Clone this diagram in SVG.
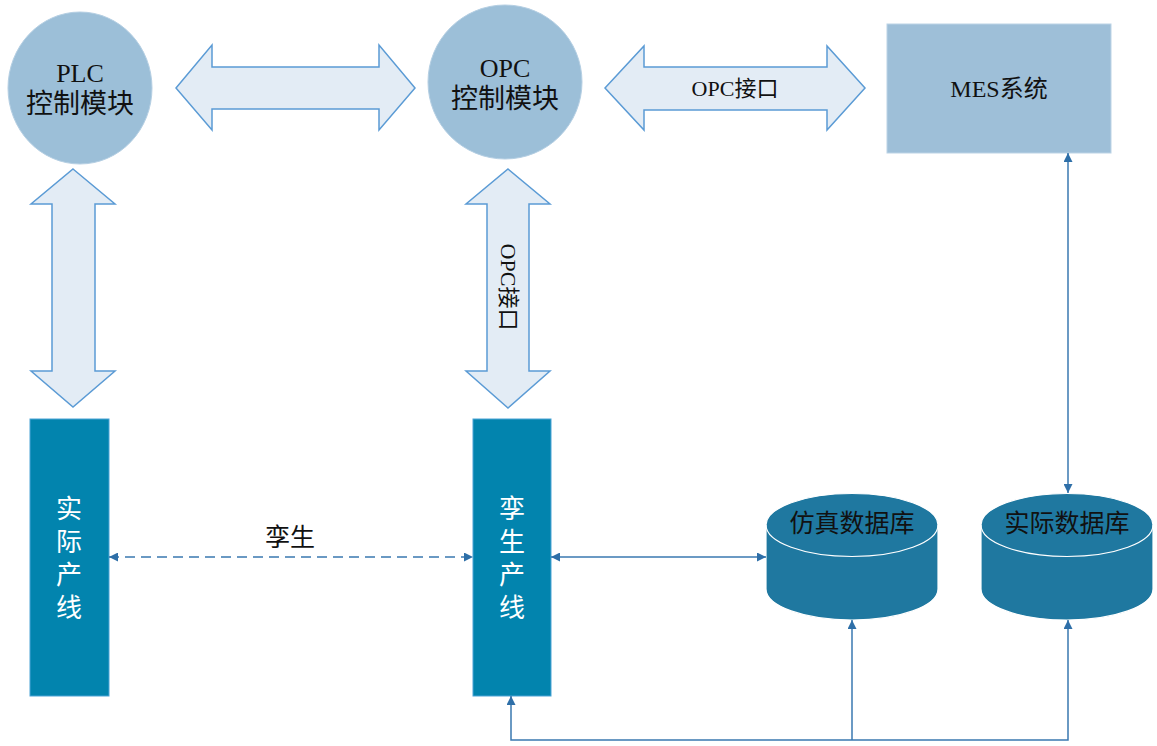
<svg xmlns="http://www.w3.org/2000/svg" width="1157" height="746" viewBox="0 0 1157 746">
<style>
  .t { font-family: "Liberation Serif", "Noto Sans CJK SC", serif; fill: #111; }
  .w { font-family: "Liberation Serif", "Noto Sans CJK SC", serif; fill: #ffffff; font-size: 26px; text-anchor: middle; }
  .circle { fill: #9cbfd8; stroke: #b5cfe3; stroke-width: 1; }
  .big { fill: #e3ecf5; stroke: #5b9bd5; stroke-width: 1.5; stroke-linejoin: miter; }
  .line { fill: #0284ae; stroke: #4aa3d6; stroke-width: 1; }
  .db { fill: #1f78a0; stroke: #ffffff; stroke-width: 1.2; }
  .conn { fill: none; stroke: #3a78b0; stroke-width: 1.5; }
</style>
<defs>
  <marker id="ah" viewBox="0 0 10 10" refX="10" refY="5" markerWidth="9" markerHeight="9" markerUnits="userSpaceOnUse" orient="auto-start-reverse">
    <path d="M0,0 L10,5 L0,10 z" fill="#2e6fa8"/>
  </marker>
</defs>
<rect width="1157" height="746" fill="#ffffff"/>

<g id="plc">
  <ellipse class="circle" cx="80" cy="88" rx="72" ry="76"/>
  <text class="t" x="80" y="82" font-size="26" text-anchor="middle">PLC</text>
  <text class="t" x="80" y="113" font-size="27" text-anchor="middle">控制模块</text>
</g>

<g id="opc">
  <ellipse class="circle" cx="505" cy="82" rx="77" ry="77"/>
  <text class="t" x="505" y="77" font-size="26" text-anchor="middle">OPC</text>
  <text class="t" x="505" y="108" font-size="27" text-anchor="middle">控制模块</text>
</g>

<g id="mes">
  <rect x="887" y="24" width="224" height="129" fill="#9ebfd8" stroke="#bcd3e6" stroke-width="1"/>
  <text class="t" x="999" y="97" font-size="24" text-anchor="middle">MES系统</text>
</g>

<g id="arrow-plc-opc">
  <polygon class="big" points="176,88 212,45 212,67 379,67 379,45 415,88 379,130 379,109 212,109 212,130"/>
</g>

<g id="arrow-opc-mes">
  <polygon class="big" points="605,88 644,46 644,67 827,67 827,46 865,88 827,130 827,110 644,110 644,130"/>
  <text class="t" x="735" y="96" font-size="22" text-anchor="middle">OPC接口</text>
</g>

<g id="arrow-plc-line">
  <polygon class="big" points="73,169 115,204 95,204 95,371 115,371 73,407 31,371 52,371 52,204 31,204"/>
</g>

<g id="arrow-opc-twin">
  <polygon class="big" points="508,169 550,204 529,204 529,371 550,371 508,408 466,371 487,371 487,204 466,204"/>
  <text class="t" x="508" y="287" font-size="22" text-anchor="middle" dominant-baseline="central" transform="rotate(90 508 287)">OPC接口</text>
</g>

<g id="real-line">
  <rect class="line" x="30" y="419" width="79" height="277"/>
  <text class="w" x="69" y="518">实</text>
  <text class="w" x="69" y="551">际</text>
  <text class="w" x="69" y="584">产</text>
  <text class="w" x="69" y="617">线</text>
</g>

<g id="twin-line">
  <rect class="line" x="473" y="419" width="78" height="277"/>
  <text class="w" x="512" y="518">孪</text>
  <text class="w" x="512" y="551">生</text>
  <text class="w" x="512" y="584">产</text>
  <text class="w" x="512" y="617">线</text>
</g>

<g id="sim-db">
  <path class="db" d="M766,525 A86,31.5 0 0 1 938,525 L938,589 A86,31 0 0 1 766,589 Z"/>
  <path d="M766,525 A86,31.5 0 0 0 938,525" fill="none" stroke="#ffffff" stroke-width="1.2"/>
  <text class="t" x="852" y="532" font-size="25" text-anchor="middle">仿真数据库</text>
</g>

<g id="real-db">
  <path class="db" d="M981,525 A86,31.5 0 0 1 1153,525 L1153,589 A86,31 0 0 1 981,589 Z"/>
  <path d="M981,525 A86,31.5 0 0 0 1153,525" fill="none" stroke="#ffffff" stroke-width="1.2"/>
  <text class="t" x="1067" y="532" font-size="25" text-anchor="middle">实际数据库</text>
</g>

<g id="connectors">
  <path class="conn" d="M109,557 H473" stroke-dasharray="10 6" marker-start="url(#ah)" marker-end="url(#ah)"/>
  <text class="t" x="290" y="546" font-size="25" text-anchor="middle">孪生</text>
  <path class="conn" d="M551,557 H766" marker-start="url(#ah)" marker-end="url(#ah)"/>
  <path class="conn" d="M1068,153 V493" marker-start="url(#ah)" marker-end="url(#ah)"/>
  <path class="conn" d="M511,696 V740 H1068 V620" marker-start="url(#ah)" marker-end="url(#ah)"/>
  <path class="conn" d="M852,740 V620" marker-end="url(#ah)"/>
</g>
</svg>
